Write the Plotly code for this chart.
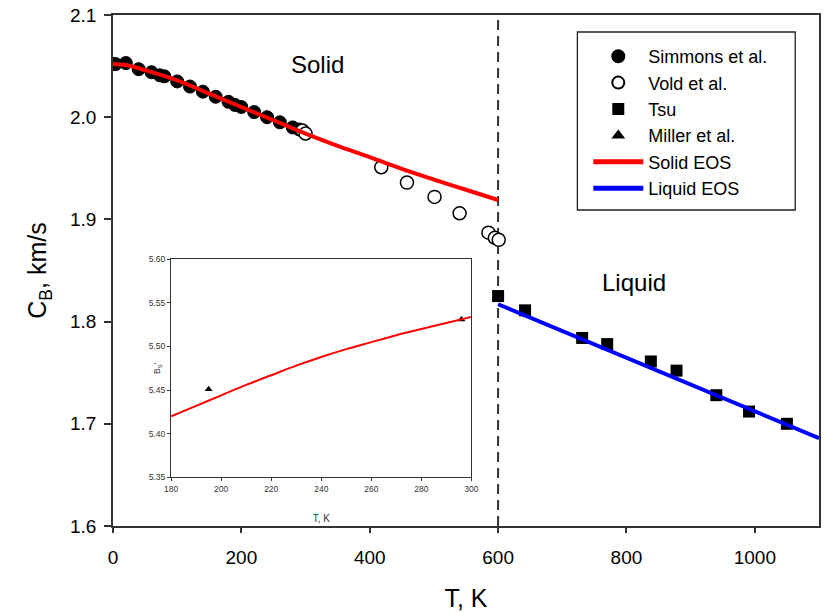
import plotly.graph_objects as go

# ---------------- data ----------------
simmons_T = [0, 4, 20, 40, 60, 73, 80, 100, 120, 140, 160, 180, 190, 200, 220, 240, 260, 280, 290]
simmons_C = [2.052, 2.052, 2.053, 2.047, 2.044, 2.041, 2.040, 2.035, 2.030, 2.025, 2.020, 2.015,
             2.012, 2.010, 2.005, 2.000, 1.995, 1.990, 1.988]

vold_T = [295, 300, 418, 458, 501, 540, 585, 595, 601]
vold_C = [1.987, 1.984, 1.951, 1.936, 1.922, 1.906, 1.887, 1.882, 1.880]

tsu_T = [600, 642, 731, 770, 838, 878, 940, 991, 1050]
tsu_C = [1.825, 1.811, 1.784, 1.778, 1.761, 1.752, 1.728, 1.712, 1.700]

solid_T = [0, 20, 50, 100, 150, 200, 250, 300, 350, 400, 450, 500, 550, 600]
solid_C = [2.052, 2.051, 2.046, 2.036, 2.023, 2.010, 1.997, 1.984, 1.972, 1.961, 1.9495, 1.939, 1.929, 1.919]

liquid_T = [600, 700, 800, 900, 1000, 1100]
liquid_C = [1.817, 1.791, 1.765, 1.739, 1.712, 1.686]

# inset: B_S'
inset_T = [180, 190, 200, 210, 220, 230, 240, 250, 260, 270, 280, 290, 300]
inset_B = [5.420, 5.432, 5.444, 5.456, 5.467, 5.478, 5.488, 5.497, 5.505, 5.513, 5.520, 5.527, 5.534]
miller_T = [195, 296]
miller_B = [5.451, 5.531]

melt_T = 600

x_ticks = [0, 200, 400, 600, 800, 1000]
y_ticks = [1.6, 1.7, 1.8, 1.9, 2.0, 2.1]
inset_x_ticks = [180, 200, 220, 240, 260, 280, 300]
inset_y_ticks = [5.35, 5.40, 5.45, 5.50, 5.55, 5.60]

FONT = "Arial, Liberation Sans, sans-serif"
AX = "#333333"

# plot-area pixel frame (for paper-coordinate placement of the legend box)
W, H = 829, 612
ML, MR, MT, MB = 113, 3, 15, 86
PW, PH = W - ML - MR, H - MT - MB


def px_x(p):
    return (p - ML) / PW


def px_y(p):
    return (H - MB - p) / PH


fig = go.Figure()

fig.add_trace(go.Scatter(x=simmons_T, y=simmons_C, mode="markers", name="Simmons et al.",
                         marker=dict(symbol="circle", size=13, color="black",
                                     line=dict(color="black", width=1))))
fig.add_trace(go.Scatter(x=vold_T, y=vold_C, mode="markers", name="Vold et al.",
                         marker=dict(symbol="circle", size=13, color="white",
                                     line=dict(color="black", width=1.5))))
fig.add_trace(go.Scatter(x=tsu_T, y=tsu_C, mode="markers", name="Tsu",
                         marker=dict(symbol="square", size=12, color="black")))
fig.add_trace(go.Scatter(x=miller_T, y=miller_B, mode="markers", name="Miller et al.",
                         xaxis="x2", yaxis="y2",
                         marker=dict(symbol="triangle-up", size=7, color="black")))
fig.add_trace(go.Scatter(x=solid_T, y=solid_C, mode="lines", name="Solid EOS",
                         line=dict(color="#ff0000", width=4, shape="spline")))
fig.add_trace(go.Scatter(x=liquid_T, y=liquid_C, mode="lines", name="Liquid EOS",
                         line=dict(color="#0000ff", width=4)))
fig.add_trace(go.Scatter(x=inset_T, y=inset_B, mode="lines", showlegend=False,
                         xaxis="x2", yaxis="y2",
                         line=dict(color="#ff0000", width=2, shape="spline")))

# melting line
fig.add_shape(type="line", xref="x", yref="paper", x0=melt_T, x1=melt_T, y0=0, y1=1,
              line=dict(color=AX, width=2, dash="10px,6px"), layer="below")

# legend frame
fig.add_shape(type="rect", xref="paper", yref="paper",
              x0=px_x(582), x1=px_x(802), y0=px_y(210), y1=px_y(32),
              line=dict(color="#222222", width=1.3), fillcolor="white", layer="above")

fig.add_annotation(x=319, y=2.052, xref="x", yref="y", text="Solid", showarrow=False,
                   font=dict(family=FONT, size=24, color="black"))
fig.add_annotation(x=812, y=1.8387, xref="x", yref="y", text="Liquid", showarrow=False,
                   font=dict(family=FONT, size=24, color="black"))
# inset y-axis title (sits inside the tick-label column, as in the original)
fig.add_annotation(x=-0.07, y=0.5, xref="x2 domain", yref="y2 domain", text="B<sub>S</sub>'",
                   textangle=-90, showarrow=False,
                   font=dict(family=FONT, size=8.5, color="#333333"))

fig.update_layout(
    width=W, height=H,
    margin=dict(l=ML, r=MR, t=MT, b=MB),
    plot_bgcolor="white", paper_bgcolor="white",
    font=dict(family=FONT, color="black"),
    showlegend=True,
    legend=dict(x=px_x(593), y=px_y(38), xanchor="left", yanchor="top",
                bgcolor="rgba(0,0,0,0)", borderwidth=0,
                font=dict(family=FONT, size=18, color="black"),
                itemwidth=50, itemsizing="constant"),
    xaxis=dict(range=[0, 1100], tickvals=x_ticks, showline=True, linecolor=AX, linewidth=1.5,
               mirror=True, ticks="outside", ticklen=5, tickcolor=AX, tickwidth=1.5,
               showgrid=False, zeroline=False, ticklabelstandoff=8,
               tickfont=dict(family=FONT, size=19, color="black"),
               title=dict(text="T, K", font=dict(family=FONT, size=25, color="black"), standoff=23)),
    yaxis=dict(range=[1.6, 2.1], tickvals=y_ticks, tickformat=".1f", showline=True,
               linecolor=AX, linewidth=1.5, mirror=True, ticks="outside", ticklen=7,
               tickcolor=AX, tickwidth=1.5, showgrid=False, zeroline=False, ticklabelstandoff=4,
               tickfont=dict(family=FONT, size=19, color="black"),
               title=dict(text="C<sub>B</sub>, km/s", font=dict(family=FONT, size=25, color="black"),
                          standoff=16)),
    xaxis2=dict(domain=[px_x(171.7), px_x(475)], anchor="y2", range=[180, 300], tickvals=inset_x_ticks,
                showline=True, linecolor=AX, linewidth=1.2, mirror=True, ticks="outside",
                ticklen=3, tickcolor=AX, showgrid=False, zeroline=False,
                tickfont=dict(family=FONT, size=8.5, color="#333333"),
                title=dict(text="T, K", font=dict(family=FONT, size=10, color="#333333"), standoff=22)),
    yaxis2=dict(domain=[px_y(477.3), px_y(259.3)], anchor="x2", range=[5.35, 5.60], tickvals=inset_y_ticks,
                tickformat=".2f", showline=True, linecolor=AX, linewidth=1.2, mirror=True,
                ticks="outside", ticklen=3, tickcolor=AX, showgrid=False, zeroline=False,
                tickfont=dict(family=FONT, size=8.5, color="#333333")),
)

fig.write_html("out.html")
